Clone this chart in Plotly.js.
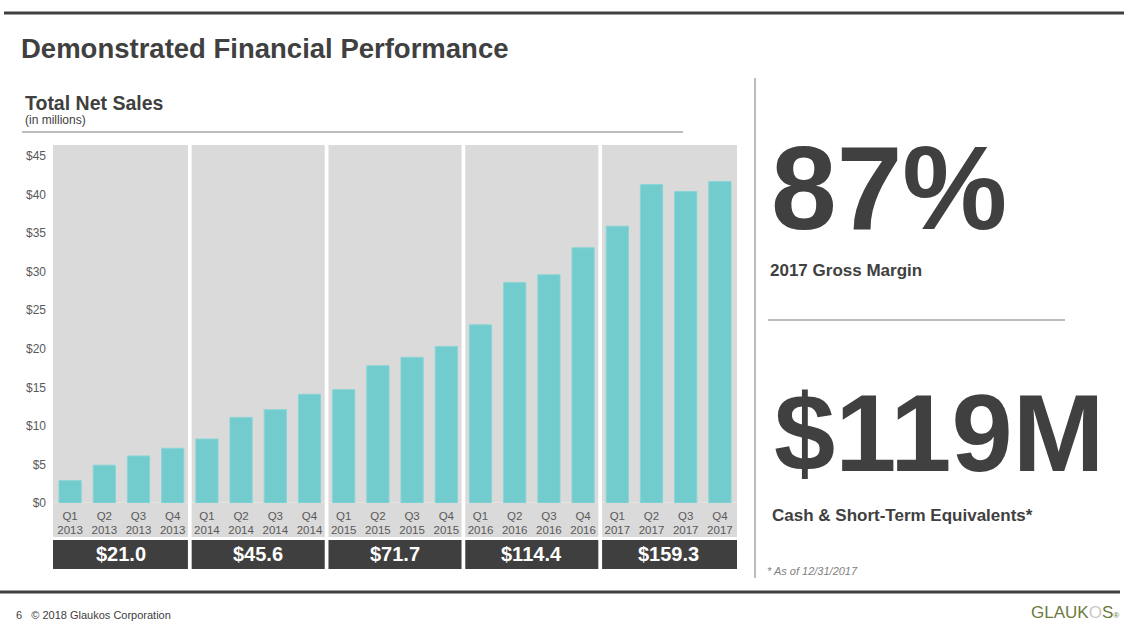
<!DOCTYPE html>
<html><head><meta charset="utf-8">
<script src="https://cdn.plot.ly/plotly-3.0.1.min.js"></script>
<style>html,body{margin:0;padding:0;background:#fff;} #chart{width:1129px;height:635px;}</style>
</head><body><div id="chart"></div>
<script>
// ---- data ----
const quarters = ['Q1 2013','Q2 2013','Q3 2013','Q4 2013','Q1 2014','Q2 2014','Q3 2014','Q4 2014',
  'Q1 2015','Q2 2015','Q3 2015','Q4 2015','Q1 2016','Q2 2016','Q3 2016','Q4 2016',
  'Q1 2017','Q2 2017','Q3 2017','Q4 2017'];
const quarterLabels = ['Q1<br>2013','Q2<br>2013','Q3<br>2013','Q4<br>2013','Q1<br>2014','Q2<br>2014','Q3<br>2014','Q4<br>2014',
  'Q1<br>2015','Q2<br>2015','Q3<br>2015','Q4<br>2015','Q1<br>2016','Q2<br>2016','Q3<br>2016','Q4<br>2016',
  'Q1<br>2017','Q2<br>2017','Q3<br>2017','Q4<br>2017'];
const netSales = [2.9,4.9,6.1,7.1, 8.3,11.1,12.1,14.1, 14.7,17.8,18.9,20.3, 23.1,28.6,29.6,33.1, 35.9,41.3,40.4,41.7];
const years = ['2013','2014','2015','2016','2017'];
const yearTotals = ['$21.0','$45.6','$71.7','$114.4','$159.3'];
const yTickVals = [0,5,10,15,20,25,30,35,40,45];
const yTickLabels = ['$0','$5','$10','$15','$20','$25','$30','$35','$40','$45'];

// ---- layout helpers ----
const W = 1129, H = 635, L = 53, R = 737, T = 145, B = 503;
const px = x => (x - L) / (R - L);
const py = y => (B - y) / (B - T);
const FONT = 'Liberation Sans, Arial, Helvetica, sans-serif';
const DARK = '#404040';

const shapes = [];
const annotations = [];

// panels and total boxes per year
years.forEach((yr, g) => {
  const x0 = g * 4 - 0.5 + (g === 0 ? 0 : 0.055);
  const x1 = g * 4 + 3.5 - (g === years.length - 1 ? 0 : 0.055);
  shapes.push({type:'rect', xref:'x', yref:'paper', x0, x1, y0: py(537), y1: py(145),
    fillcolor:'#dadada', line:{width:0}, layer:'below'});
  shapes.push({type:'rect', xref:'x', yref:'paper', x0, x1, y0: py(569), y1: py(540),
    fillcolor:'#3f3f3f', line:{width:0}, layer:'below'});
  shapes.push({type:'line', xref:'x', yref:'y', x0, x1, y0: 0, y1: 0,
    line:{color:'#eeeee6', width:1.2}, layer:'below'});
  annotations.push({xref:'x', yref:'paper', x: g * 4 + 1.5, y: py(554), text: yearTotals[g],
    showarrow:false, xanchor:'center', yanchor:'middle',
    font:{family:FONT, size:20, color:'#ffffff', weight:700}});
});

// decorative lines
shapes.push({type:'line', xref:'paper', yref:'paper', x0: px(4), x1: px(1124), y0: py(13), y1: py(13), line:{color:DARK, width:3}});
shapes.push({type:'line', xref:'paper', yref:'paper', x0: px(0), x1: px(1120), y0: py(592), y1: py(592), line:{color:DARK, width:3}});
shapes.push({type:'line', xref:'paper', yref:'paper', x0: px(22), x1: px(683), y0: py(132), y1: py(132), line:{color:'#a6a6a6', width:1.5}});
shapes.push({type:'line', xref:'paper', yref:'paper', x0: px(755), x1: px(755), y0: py(78), y1: py(578), line:{color:'#a6a6a6', width:1.5}});
shapes.push({type:'line', xref:'paper', yref:'paper', x0: px(768), x1: px(1065), y0: py(320), y1: py(320), line:{color:'#a6a6a6', width:1.5}});

function txt(x, y, text, size, opts) {
  opts = opts || {};
  annotations.push({xref:'paper', yref:'paper', x: px(x), y: py(y), text, showarrow:false,
    xanchor: opts.xanchor || 'left', yanchor:'middle',
    font:{family:FONT, size, color: opts.color || DARK, weight: opts.weight || 400, style: opts.style || 'normal'}});
}
txt(19, 48, 'Demonstrated Financial Performance', 27.5, {weight:700});
txt(23, 103, 'Total Net Sales', 19.5, {weight:700});
txt(23, 120, '(in millions)', 12, {color:'#404040'});
txt(769, 188, '87%', 118, {weight:700});
txt(768, 270, '2017 Gross Margin', 17, {weight:700});
txt(772, 432, '$119M', 110, {weight:700});
txt(770, 515, 'Cash &amp; Short-Term Equivalents*', 17, {weight:700});
txt(765, 571, '* As of 12/31/2017', 11, {color:'#7f7f7f', style:'italic'});
txt(14, 615, '6   © 2018 Glaukos Corporation', 11, {color:'#404040'});
txt(1121, 612, 'GLAUK<span style="color:#c9c9c9">O</span>S<span style="font-size:8px">®</span>', 17, {xanchor:'right', color:'#6b7a3c'});

const trace = {
  type:'bar', x: quarters, y: netSales,
  marker:{color:'#72cbcd', line:{color:'#8ad5d6', width:1}},
  hoverinfo:'skip'
};

const layout = {
  width: W, height: H,
  margin:{l: L, r: W - R, t: T, b: H - B, pad: 0},
  paper_bgcolor:'#ffffff', plot_bgcolor:'rgba(0,0,0,0)',
  showlegend:false, bargap:0.35,
  font:{family:FONT, color:'#595959'},
  xaxis:{type:'category', categoryorder:'array', categoryarray: quarters,
    tickmode:'array', tickvals: quarters, ticktext: quarterLabels,
    range:[-0.5, 19.5], ticks:'', showline:false, showgrid:false, zeroline:false,
    ticklabelstandoff: 4,
    tickfont:{family:FONT, size:11.5, color:'#595959'}, fixedrange:true},
  yaxis:{range:[0, 45 * (B - T) / (B - 156)], tickmode:'array', tickvals: yTickVals, ticktext: yTickLabels,
    ticks:'', showline:false, showgrid:false, zeroline:false, ticklabelstandoff: 6,
    tickfont:{family:FONT, size:12, color:'#595959'}, fixedrange:true},
  shapes, annotations
};

Plotly.newPlot('chart', [trace], layout, {displayModeBar:false, staticPlot:true});
</script></body></html>
